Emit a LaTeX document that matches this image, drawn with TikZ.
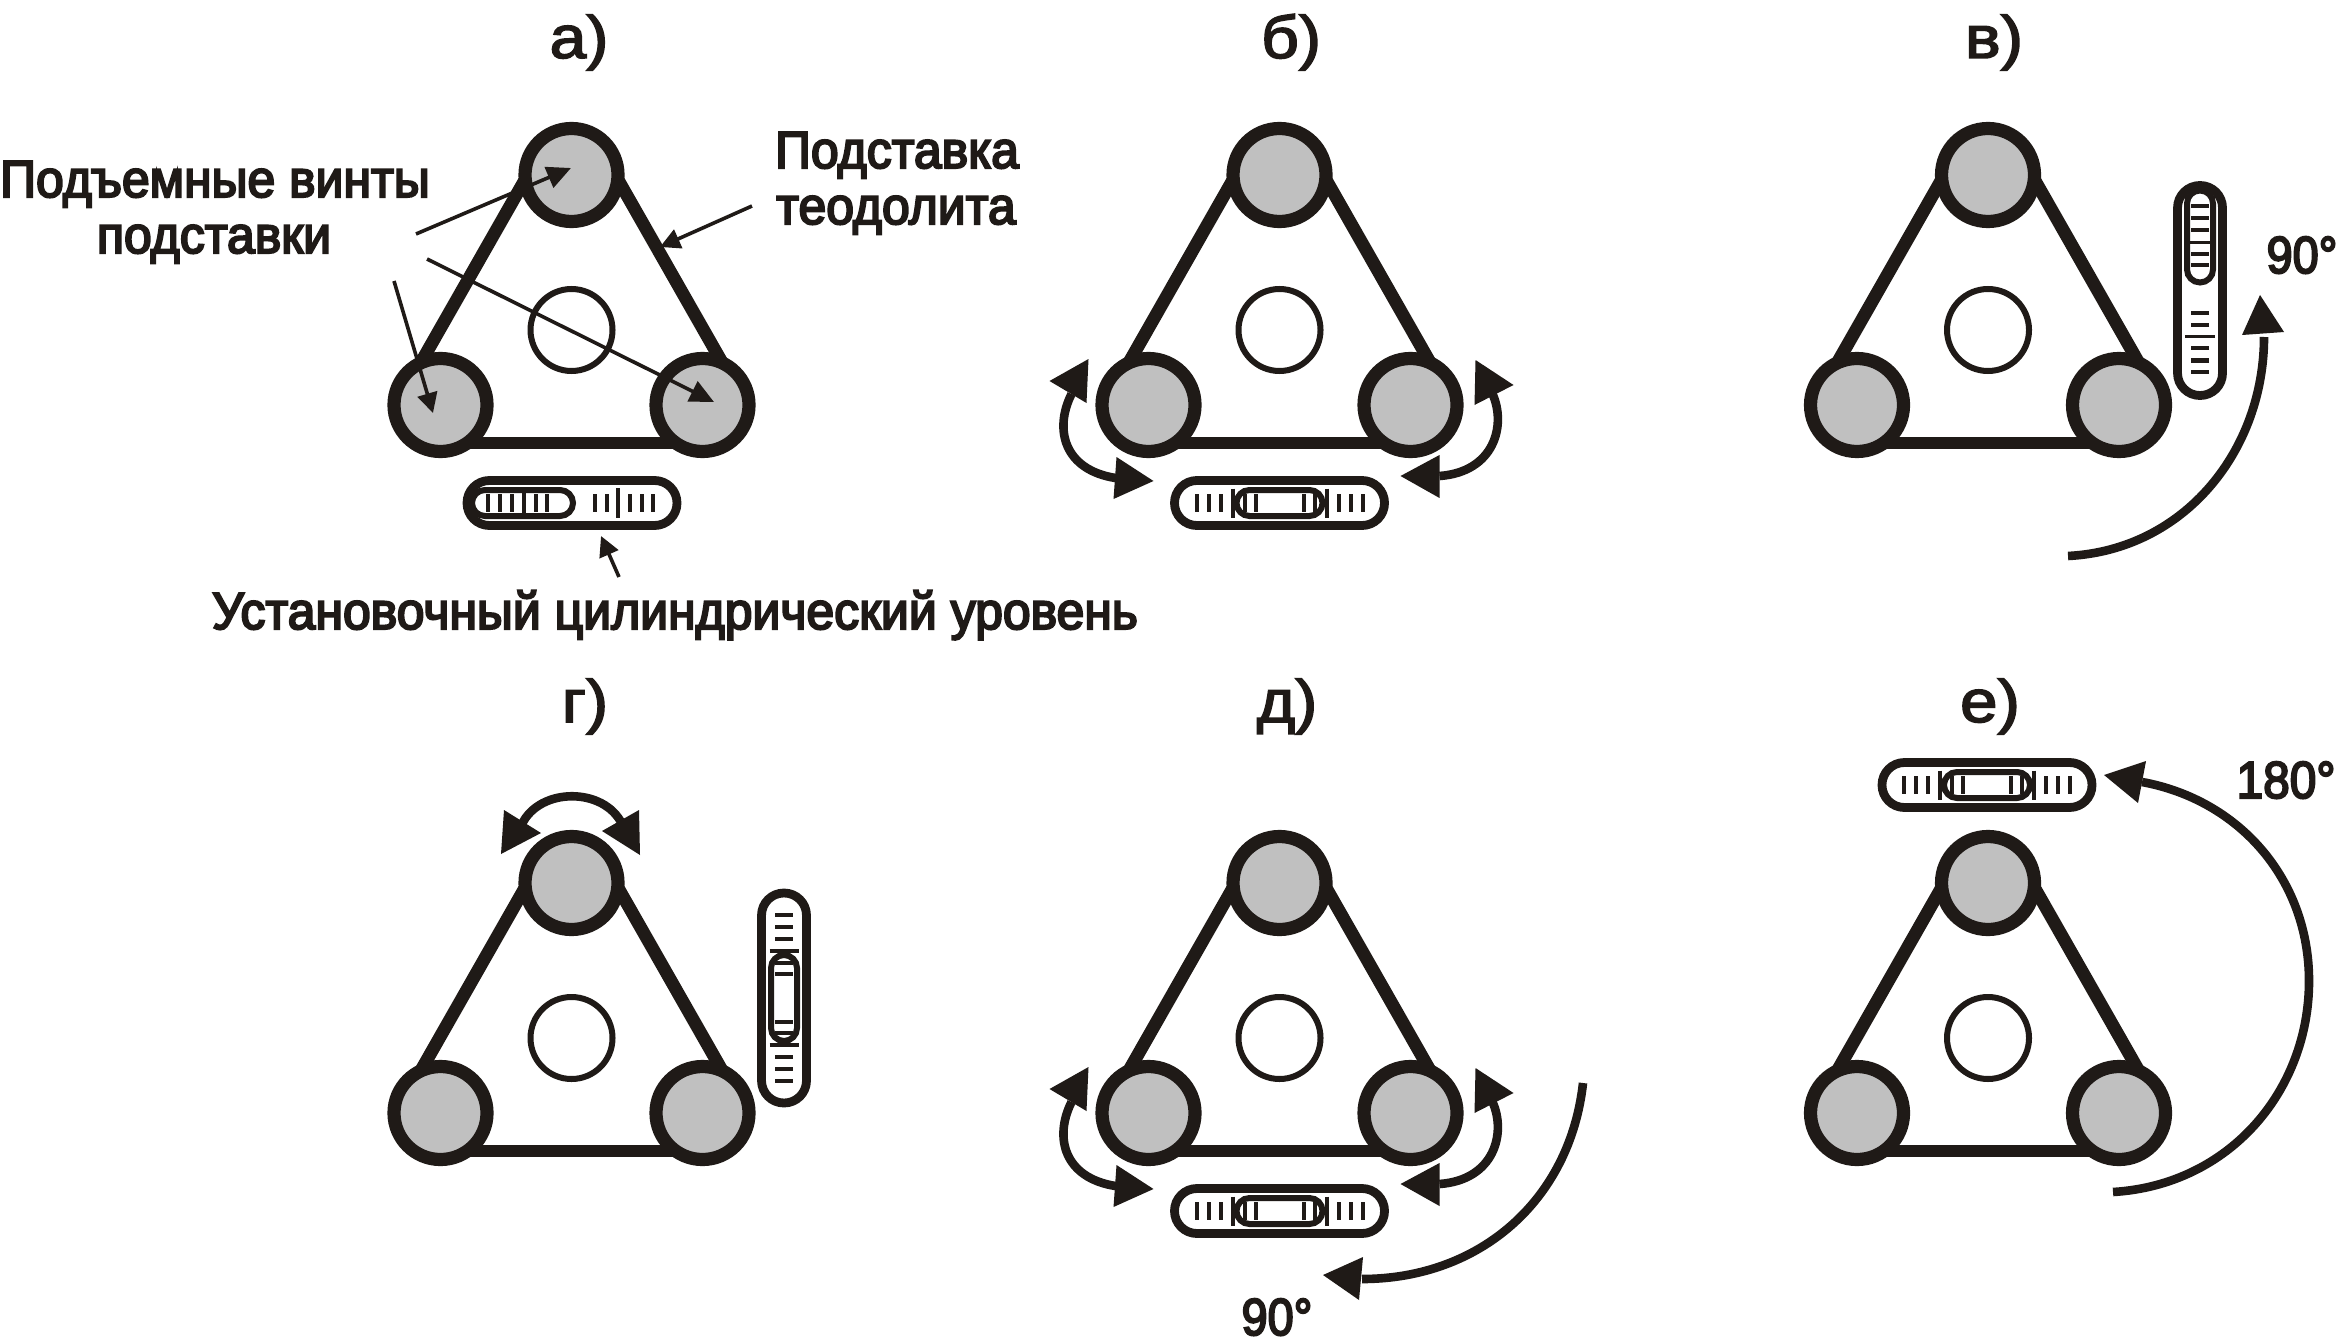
\documentclass[tikz,border=0pt]{standalone}
\usepackage{fontspec}
\usepackage{graphicx}
\usetikzlibrary{arrows.meta}
\newfontfamily\lab{Liberation Sans}[FakeBold=4]
\newfontfamily\ttl{Liberation Sans}[FakeBold=2.5]
\definecolor{ink}{HTML}{1F1A17}
\definecolor{screwgrey}{HTML}{C0C0C0}
\newcommand{\sx}[2]{\scalebox{#1}[1]{#2}}
\tikzset{
  x=0.5pt,y=-0.5pt,
  frame/.style={draw=ink,line width=6.4pt},
  screw/.style={draw=ink,fill=screwgrey,line width=6.6pt},
  hole/.style={draw=ink,fill=white,line width=3pt},
  tube/.style={draw=ink,line width=4.4pt,rounded corners=11.2pt},
  bubble/.style={draw=ink,line width=3pt,rounded corners=6.5pt},
  tick/.style={draw=ink,line width=2pt},
  longtick/.style={draw=ink,line width=1.7pt},
  swing/.style={draw=ink,line width=4.3pt},
  head/.style={fill=ink},
  thin arrow/.style={draw=ink,line width=1.8pt},
  label text/.style={inner sep=0pt,text=ink,font=\lab\fontsize{26}{26}\selectfont,anchor=base},
  title text/.style={inner sep=0pt,text=ink,font=\ttl\fontsize{30}{30}\selectfont,anchor=base},
  stand/.pic={
    \draw[frame] (33,156) -- (164,386);
    \draw[frame] (-33,156) -- (-164,386);
    \draw[frame] (-131,443) -- (131,443);
    \draw[hole] (0,330) circle[radius=41];
    \draw[screw] (0,175) circle[radius=46.5];
    \draw[screw] (-131,405) circle[radius=46.5];
    \draw[screw] (131,405) circle[radius=46.5];
  },
  levelmid/.pic={
    \draw[tube] (-105,-22.5) rectangle (105,22.5);
    \foreach \t in {-83,-71,-59,-35,-24,24,35,59,71,83}
      \draw[tick] (\t,-9) -- (\t,9);
    \foreach \t in {-47,47}
      \draw[tick] (\t,-14.5) -- (\t,14.5);
    \draw[bubble] (-43,-13) rectangle (43,13);
  },
  leveloff/.pic={
    \draw[tube] (-105,-22.5) rectangle (105,22.5);
    \foreach \t in {-84,-72,-60,-36,-25,23,35,58,70,81}
      \draw[tick] (\t,-9) -- (\t,9);
    \foreach \t in {-48,46}
      \draw[longtick] (\t,-15) -- (\t,15);
    \draw[bubble] (-100,-13) rectangle (#1,13);
  },
  screwarrows/.pic={
    \fill[head] (-191,359) -- (-230,381) -- (-193,403) -- cycle;
    \fill[head] (-163,457) -- (-126,481) -- (-166,499) -- cycle;
    \draw[swing] (-208,394) .. controls (-226,430) and (-215,470) .. (-164,478);
    \fill[head] (196,360) -- (234,385) -- (195,405) -- cycle;
    \fill[head] (160,455) -- (121,476) -- (160,498) -- cycle;
    \draw[swing] (213,394) .. controls (227,425) and (215,472) .. (160,476);
  }
}
\begin{document}
\begin{tikzpicture}
\useasboundingbox (0,0) rectangle (2337,1342);
\fill[white] (0,0) rectangle (2337,1342);

% stands
\pic at (571.5,0) {stand};
\pic at (1279.5,0) {stand};
\pic at (1988,0) {stand};
\pic at (571.5,708) {stand};
\pic at (1279.5,708) {stand};
\pic at (1988,708) {stand};

% levels
\pic at (572,503) {leveloff=1};
\pic at (1279.5,503) {levelmid};
\pic[rotate=-90] at (2200,290.5) {leveloff=-8};
\pic[rotate=90] at (784,998) {levelmid};
\pic at (1279.5,1211) {levelmid};
\pic at (1987,785) {levelmid};

% screw rotation arrows
\pic at (1279.5,0) {screwarrows};
\pic at (1279.5,708) {screwarrows};
\fill[head] (504,810) -- (541,833) -- (501,854) -- cycle;
\fill[head] (639,810) -- (602,831) -- (640,855) -- cycle;
\draw[swing] (522,824) .. controls (540,787) and (604,787) .. (622,824);

% large turning arrows
\draw[swing] (2068,556) .. controls (2185,550) and (2264,450) .. (2264,337);
\fill[head] (2242,335) -- (2260,295) -- (2284,332) -- cycle;
\draw[swing] (1583,1083) .. controls (1570,1200) and (1480,1279) .. (1362,1279);
\fill[head] (1363,1257) -- (1323,1275) -- (1359,1300) -- cycle;
\draw[swing] (2113,1192) .. controls (2230,1185) and (2309,1090) .. (2309,981) .. controls (2309,880) and (2240,800) .. (2142,782);
\fill[head] (2146,761) -- (2104,775) -- (2138,803) -- cycle;

% titles
\node[title text] (ta) at (579,58) {\sx{1.1}{а)}};
\node[title text] (tb) at (1291,58) {\sx{1.1}{б)}};
\node[title text] (tv) at (1994,58) {\sx{1.12}{в)}};
\node[title text] (tg) at (585,722) {\sx{1.1}{г)}};
\node[title text] (td) at (1287,722) {\sx{1.1}{д)}};
\node[title text] (te) at (1990,722) {\sx{1.12}{е)}};

% labels
\node[label text] (l1) at (215,197) {\sx{.96}{Подъемные винты}};
\node[label text] (l2) at (214,253) {\sx{.96}{подставки}};
\node[label text] (l3) at (897,168) {\sx{.96}{Подставка}};
\node[label text] (l4) at (896,224) {\sx{.96}{теодолита}};
\node[label text] (l5) at (675,629) {\sx{.96}{Установочный цилиндрический уровень}};
\node[label text] (a90) at (2302,273) {\sx{.9}{90°}};
\node[label text] (d90) at (1277,1335) {\sx{.9}{90°}};
\node[label text] (e180) at (2286,798) {\sx{.92}{180°}};

% thin leader arrows
\coordinate (s1) at (416,234); \coordinate (e1) at (571,168);
\coordinate (s2) at (427,259); \coordinate (e2) at (714,402);
\coordinate (s3) at (394,281); \coordinate (e3) at (433,413);
\coordinate (s4) at (752,206); \coordinate (e4) at (660,247);
\coordinate (s5) at (619,577); \coordinate (e5) at (601,536);
\draw[thin arrow,-{Triangle[length=12pt,width=11pt]}] (s1) -- (e1);
\draw[thin arrow,-{Triangle[length=12pt,width=11pt]}] (s2) -- (e2);
\draw[thin arrow,-{Triangle[length=10pt,width=10pt]}] (s3) -- (e3);
\draw[thin arrow,-{Triangle[length=10pt,width=10pt]}] (s4) -- (e4);
\draw[thin arrow,-{Triangle[length=10pt,width=10pt]}] (s5) -- (e5);
\end{tikzpicture}
\end{document}
